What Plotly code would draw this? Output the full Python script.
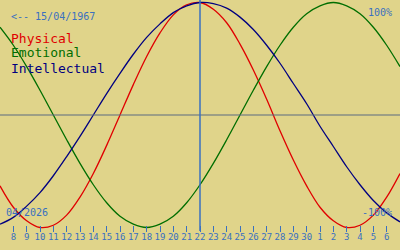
import plotly.graph_objects as go

# Day positions (April 7 .. May 7, 2026, as day index from April)
days = list(range(7, 38))

# Biorhythm values (-1 .. 1)
physical = [-0.63, -0.82, -0.94, -1.00, -0.98, -0.89, -0.73, -0.52, -0.27, 0.00,
            0.27, 0.52, 0.73, 0.89, 0.98, 1.00, 0.94, 0.82, 0.63, 0.40,
            0.14, -0.14, -0.40, -0.63, -0.82, -0.94, -1.00, -0.98, -0.89, -0.73, -0.52]
emotional = [0.78, 0.62, 0.43, 0.22, 0.00, -0.22, -0.43, -0.62, -0.78, -0.90,
             -0.97, -1.00, -0.97, -0.90, -0.78, -0.62, -0.43, -0.22, 0.00, 0.22,
             0.43, 0.62, 0.78, 0.90, 0.97, 1.00, 0.97, 0.90, 0.78, 0.62, 0.43]
intellectual = [-0.97, -0.91, -0.81, -0.69, -0.54, -0.37, -0.19, 0.00, 0.19, 0.37,
                0.54, 0.69, 0.81, 0.91, 0.97, 1.00, 0.99, 0.95, 0.87, 0.76,
                0.62, 0.46, 0.28, 0.10, -0.10, -0.28, -0.46, -0.62, -0.76, -0.87, -0.95]

tick_vals = list(range(8, 37))
tick_text = [str(d) for d in range(8, 31)] + [str(d) for d in range(1, 7)]

series_names = ["Physical", "Emotional", "Intellectual"]
series_colors = ["#E00000", "#006E00", "#000080"]
today = 22

BG = "#E0D48A"
BLUE = "#3A70C0"
FONT = "DejaVu Sans Mono"

fig = go.Figure()
for name, vals, col in zip(series_names, [physical, emotional, intellectual], series_colors):
    fig.add_trace(go.Scatter(x=days, y=vals, mode="lines", name=name,
                             line=dict(color=col, width=1.3, shape="spline"),
                             hoverinfo="skip"))

W, H = 400, 250

def px(x):
    return x / W

def py(y):
    return 1 - y / H

fig.update_layout(
    width=W, height=H,
    margin=dict(l=0, r=0, t=0, b=0),
    paper_bgcolor=BG, plot_bgcolor=BG,
    showlegend=False,
    xaxis=dict(range=[7, 37], tickmode="array", tickvals=tick_vals, ticktext=tick_text,
               showgrid=False, zeroline=False, showline=False,
               ticks="outside", ticklen=6, tickwidth=1.3, tickcolor=BLUE,
               tickfont=dict(family=FONT, size=9, color=BLUE),
               ticklabelstandoff=-3,
               anchor="free", position=0.1, fixedrange=True),
    yaxis=dict(range=[-1.2, 1.0222], visible=False, showgrid=False, zeroline=False,
               fixedrange=True),
)

# midline
fig.add_shape(type="line", xref="paper", yref="y", x0=0, x1=1, y0=0, y1=0,
              line=dict(color="#5A6A80", width=1))
# today line
fig.add_shape(type="line", xref="x", yref="paper", x0=today, x1=today,
              y0=py(231), y1=1, line=dict(color=BLUE, width=1.5))

def note(text, x, y, color, size, anchor="left"):
    fig.add_annotation(text=text, xref="paper", yref="paper", x=px(x), y=py(y),
                       xanchor=anchor, yanchor="middle", showarrow=False,
                       font=dict(family=FONT, size=size, color=color))

note("<-- 15/04/1967", 9, 16, BLUE, 10)
for i, (name, col) in enumerate(zip(series_names, series_colors)):
    note(name, 9, 38 + 15 * i, col, 13)
note("100%", 394, 12, BLUE, 10, "right")
note("-100%", 394, 212, BLUE, 10, "right")
note("04/2026", 4, 212, BLUE, 10)

fig.write_html("out.html")
